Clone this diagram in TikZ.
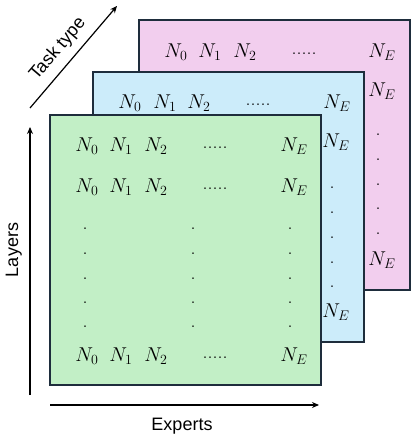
\RequirePackage{fix-cm}
\documentclass[tikz,border=0pt]{standalone}
\usepackage[no-math]{fontspec}
\newfontfamily\labfont{Liberation Sans}
\usetikzlibrary{arrows.meta}
\definecolor{gfill}{RGB}{194,239,198}
\definecolor{bfill}{RGB}{204,236,250}
\definecolor{pfill}{RGB}{242,206,238}
\definecolor{edgec}{RGB}{30,45,60}
\begin{document}
\begin{tikzpicture}[x=1pt,y=-1pt,
  sheet/.style={draw=edgec,line width=1.3pt},
  ent/.style={anchor=base,inner sep=0pt,font=\fontsize{20}{23}\selectfont},
  axisarrow/.style={line width=1.2pt,-{Stealth[length=7pt,width=6pt]}},
  axlab/.style={inner sep=0pt,font=\labfont\fontsize{18}{20}\selectfont}]
\useasboundingbox (0,0) rectangle (414,435);
\fill[white] (0,0) rectangle (414,435);
% sheets
\draw[sheet,fill=pfill] (139,20) rectangle (410,290);
\draw[sheet,fill=bfill] (93,72) rectangle (364,342);
\draw[sheet,fill=gfill] (50,115) rectangle (321,385);
% pink sheet
\node[ent] (p0) at (176,58) {$N_0$};
\node[ent] (p1) at (210,58) {$N_1$};
\node[ent] (p2) at (245,58) {$N_2$};
\node[ent] (pd) at (304,55) {.....};
\node[ent] (pE) at (382,58) {$N_E$};
\node[ent] (pE2) at (382,97) {$N_E$};
\foreach \y/\k in {135/1,160/2,185/3,209/4,233/5}
  \node[ent] (pv\k) at (378,\y+1) {.};
\node[ent] (pE3) at (382,265) {$N_E$};
% blue sheet
\node[ent] (b0) at (130,109) {$N_0$};
\node[ent] (b1) at (165,109) {$N_1$};
\node[ent] (b2) at (199,109) {$N_2$};
\node[ent] (bd) at (258,106) {.....};
\node[ent] (bE) at (337,109) {$N_E$};
\node[ent] (bE2) at (336,148) {$N_E$};
\foreach \y/\k in {188/1,212/2,237/3,262/4,286/5}
  \node[ent] (bv\k) at (332,\y+1) {.};
\node[ent] (bE3) at (336,317) {$N_E$};
% green sheet
\foreach \y/\r in {152/a,193/b,361/c} {
  \node[ent] (g\r0) at (87,\y) {$N_0$};
  \node[ent] (g\r1) at (121,\y) {$N_1$};
  \node[ent] (g\r2) at (156,\y) {$N_2$};
  \node[ent] (g\r d) at (215,\y-3) {.....};
  \node[ent] (g\r E) at (294,\y) {$N_E$};
}
\foreach \x/\c in {85/a,193/b,290/c}
  \foreach \y/\k in {228/1,253/2,278/3,302/4,326/5}
    \node[ent] (gv\c\k) at (\x,\y+1) {.};
% axes
\coordinate (ly0) at (30,395);
\coordinate (ly1) at (30,127);
\draw[axisarrow] (ly0) -- (ly1);
\node[axlab,rotate=90,anchor=base] (layers) at (18,250) {Layers};
\coordinate (ex0) at (50,405);
\coordinate (ex1) at (319,405);
\draw[axisarrow] (ex0) -- (ex1);
\node[axlab,anchor=base] (experts) at (182,430) {Experts};
\coordinate (tk0) at (30,108);
\coordinate (tk1) at (117,6);
\draw[axisarrow] (tk0) -- node[axlab,sloped,above=8pt,pos=0.47] (task) {Task type} (tk1);
\end{tikzpicture}
\end{document}
